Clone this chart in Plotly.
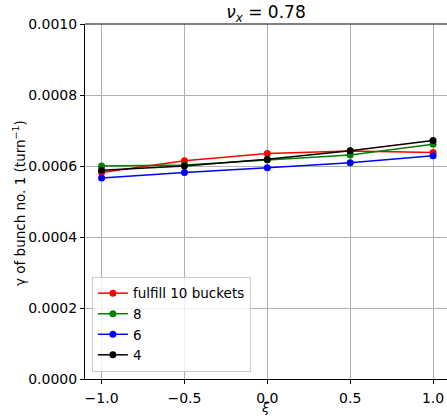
import plotly.graph_objects as go

xi = [-1.0, -0.5, 0.0, 0.5, 1.0]
names = ["fulfill 10 buckets", "8", "6", "4"]
colors = ["red", "green", "blue", "black"]
gamma_10 = [0.000582, 0.000615, 0.000635, 0.000642, 0.000638]
gamma_8 = [0.000600, 0.000603, 0.000617, 0.000631, 0.000661]
gamma_6 = [0.000566, 0.000582, 0.000595, 0.000609, 0.000629]
gamma_4 = [0.000588, 0.000600, 0.000619, 0.000643, 0.000672]
series = [gamma_10, gamma_8, gamma_6, gamma_4]

xticks = [-1.0, -0.5, 0.0, 0.5, 1.0]
xticktext = ["−1.0", "−0.5", "0.0", "0.5", "1.0"]
yticks = [0.0, 0.0002, 0.0004, 0.0006, 0.0008, 0.0010]
yticktext = ["0.0000", "0.0002", "0.0004", "0.0006", "0.0008", "0.0010"]

font = "DejaVu Sans"
fig = go.Figure()
for n, c, s in zip(names, colors, series):
    fig.add_trace(go.Scatter(x=xi, y=s, name=n, mode="lines+markers",
                             line=dict(color=c, width=1.5),
                             marker=dict(color=c, size=7)))

fig.update_layout(
    width=447, height=416,
    margin=dict(l=85, r=0, t=24, b=37),
    paper_bgcolor="white", plot_bgcolor="white",
    font=dict(family=font, size=14, color="black"),
    title=dict(text="<i>ν</i><sub><i>x</i></sub> = 0.78", x=(85 + 447) / 2 / 447, xanchor="center",
               y=1 - 12 / 416, yanchor="middle", font=dict(size=17)),
    xaxis=dict(range=[-1.1, 1.084], tickvals=xticks, ticktext=xticktext,
               showgrid=True, gridcolor="#b0b0b0", gridwidth=1,
               showline=True, linecolor="black", linewidth=1, mirror=False,
               ticks="outside", ticklen=4, tickcolor="black", zeroline=False,
               ticklabelstandoff=2),
    yaxis=dict(range=[0, 0.001], tickvals=yticks, ticktext=yticktext,
               showgrid=True, gridcolor="#b0b0b0", gridwidth=1,
               showline=True, linecolor="black", linewidth=1,
               ticks="outside", ticklen=4, tickcolor="black", zeroline=False),
    legend=dict(x=0.019, y=0.02, xanchor="left", yanchor="bottom",
                bgcolor="rgba(255,255,255,0.8)", bordercolor="#cccccc", borderwidth=1,
                font=dict(size=13.5), tracegroupgap=0, itemwidth=30),
    showlegend=True,
)
fig.add_shape(type="line", xref="paper", yref="paper", x0=0, x1=1, y0=1, y1=1,
              line=dict(color="black", width=1))
fig.add_annotation(text="<i>ξ</i>", xref="paper", yref="paper",
                   x=(265 - 85) / 362, y=-(416 - 379) / 355, xanchor="center", yanchor="bottom",
                   showarrow=False, font=dict(size=13), borderpad=0)
fig.add_annotation(text="γ of bunch no. 1 (turn<sup>−1</sup>)", xref="paper", yref="paper",
                   x=(19 - 85) / 362, y=(379 - 203) / 355, xanchor="center", yanchor="middle",
                   textangle=-90, showarrow=False, font=dict(size=13.5))
fig.write_html("out.html")
